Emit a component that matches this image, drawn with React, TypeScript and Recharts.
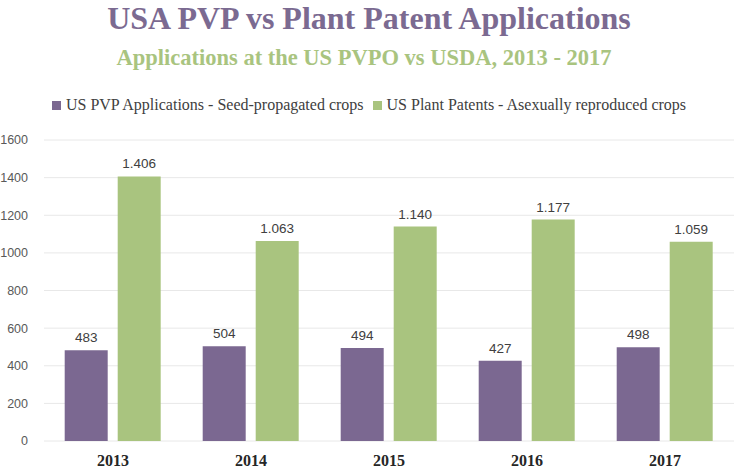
import { BarChart, Bar, XAxis, YAxis, CartesianGrid, LabelList } from 'recharts';

const years = ['2013', '2014', '2015', '2016', '2017'];
const pvpApplications = [483, 504, 494, 427, 498];
const plantPatents = [1406, 1063, 1140, 1177, 1059];
const yTicks = [0, 200, 400, 600, 800, 1000, 1200, 1400, 1600];

const PURPLE = '#7b6891';
const GREEN = '#a9c47f';
const SERIF = '"Liberation Serif", serif';
const SANS = '"Liberation Sans", sans-serif';

const data = years.map((year, i) => ({
  year,
  pvp: pvpApplications[i],
  patents: plantPatents[i],
}));

// thousands separator with a dot, as in the source
const fmt = (v: any) => {
  const n = Number(v);
  if (n < 1000) return String(n);
  return `${Math.floor(n / 1000)}.${String(n % 1000).padStart(3, '0')}`;
};

const legendItems = [
  { name: 'US PVP Applications - Seed-propagated crops', color: PURPLE },
  { name: 'US Plant Patents - Asexually reproduced crops', color: GREEN },
];

export default function App() {
  return (
    <div style={{ position: 'absolute', left: 0, top: 0, width: 738, height: 469, background: '#fff', fontFamily: SERIF }}>
      <div style={{ position: 'absolute', top: 0, left: 0, width: 738, textAlign: 'center', color: '#7b6a91', fontSize: 32, fontWeight: 'bold', lineHeight: '36px' }}>
        USA PVP vs Plant Patent Applications
      </div>
      <div style={{ position: 'absolute', top: 45, left: -5, width: 738, textAlign: 'center', color: GREEN, fontSize: 22.5, fontWeight: 'bold', lineHeight: '26px' }}>
        Applications at the US PVPO vs USDA, 2013 - 2017
      </div>
      <div style={{ position: 'absolute', top: 95, left: 0, width: 738, display: 'flex', justifyContent: 'center', gap: 9, fontSize: 16, color: '#404040', lineHeight: '20px' }}>
        {legendItems.map(item => (
          <div key={item.name} style={{ display: 'flex', alignItems: 'center' }}>
            <span style={{ display: 'inline-block', width: 9, height: 9, background: item.color, marginRight: 5 }} />
            {item.name}
          </div>
        ))}
      </div>
      <BarChart
        width={738}
        height={469}
        data={data}
        margin={{ top: 140, right: 4, left: 0, bottom: 0 }}
        barCategoryGap="15%"
        barGap={10}
      >
        <CartesianGrid vertical={false} stroke="#e8e8e8" />
        <XAxis
          dataKey="year"
          axisLine={false}
          tickLine={false}
          height={28}
          tick={{ fill: '#262626', fontSize: 16, fontWeight: 'bold', fontFamily: SERIF }}
          tickMargin={8}
        />
        <YAxis
          domain={[0, 1600]}
          ticks={yTicks}
          axisLine={false}
          tickLine={false}
          width={44}
          tick={{ fill: '#595959', fontSize: 12.5, fontFamily: SANS }}
          tickMargin={10}
        />
        <Bar dataKey="pvp" fill={PURPLE} isAnimationActive={false}>
          <LabelList dataKey="pvp" position="top" offset={8} formatter={fmt} style={{ fill: '#404040', fontSize: 13.5, fontFamily: SANS }} />
        </Bar>
        <Bar dataKey="patents" fill={GREEN} isAnimationActive={false}>
          <LabelList dataKey="patents" position="top" offset={8} formatter={fmt} style={{ fill: '#404040', fontSize: 13.5, fontFamily: SANS }} />
        </Bar>
      </BarChart>
    </div>
  );
}
